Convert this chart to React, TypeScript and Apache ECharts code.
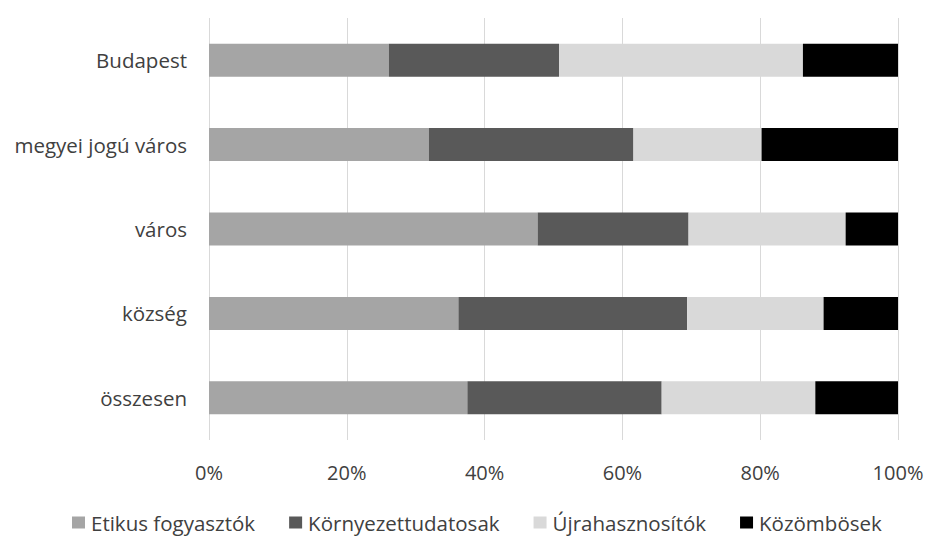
import React, { useEffect, useRef } from "react";
import * as echarts from "echarts";

// Categories listed bottom-to-top (ECharts category axis starts at the bottom)
const categories = ["összesen", "község", "város", "megyei jogú város", "Budapest"];

const seriesNames = ["Etikus fogyasztók", "Környezettudatosak", "Újrahasznosítók", "Közömbösek"];
const etikus = [37.5, 36.2, 47.7, 31.9, 26.1];
const kornyezet = [28.2, 33.2, 21.9, 29.7, 24.7];
const ujra = [22.3, 19.8, 22.8, 18.6, 35.4];
const kozombos = [12.0, 10.8, 7.6, 19.8, 13.8];
const seriesColors = ["#a5a5a5", "#595959", "#d9d9d9", "#000000"];

const xTicks = [0, 20, 40, 60, 80, 100];

const FONT = "'Open Sans', sans-serif";
const TEXT_COLOR = "#404040";

export default function App() {
  const ref = useRef<HTMLDivElement>(null);

  useEffect(() => {
    if (!ref.current) return;
    const chart = echarts.init(ref.current, undefined, { renderer: "svg" });
    const values = [etikus, kornyezet, ujra, kozombos];
    chart.setOption({
      animation: false,
      backgroundColor: "#ffffff",
      grid: { left: 209, right: 30, top: 18, bottom: 97, containLabel: false },
      legend: {
        top: 512,
        left: 72,
        padding: 0,
        itemWidth: 13,
        itemHeight: 12,
        itemGap: 34,
        icon: "rect",
        textStyle: {
          fontFamily: FONT,
          fontSize: 20.5,
          lineHeight: 20,
          color: TEXT_COLOR,
          padding: [0, 0, 0, 1],
        },
        data: seriesNames,
      },
      xAxis: {
        type: "value",
        min: xTicks[0],
        max: xTicks[xTicks.length - 1],
        interval: 20,
        axisLine: { show: false },
        axisTick: { show: false },
        axisLabel: {
          formatter: (v: number) => `${v}%`,
          fontFamily: FONT,
          fontSize: 20,
          color: TEXT_COLOR,
          margin: 22,
        },
        splitLine: { show: true, lineStyle: { color: "#d9d9d9", width: 1 } },
      },
      yAxis: {
        type: "category",
        data: categories,
        axisLine: { show: false },
        axisTick: { show: false },
        axisLabel: { fontFamily: FONT, fontSize: 20.5, color: TEXT_COLOR, margin: 22 },
      },
      series: seriesNames.map((name, i) => ({
        name,
        type: "bar",
        stack: "total",
        barWidth: 33,
        data: values[i],
        itemStyle: { color: seriesColors[i] },
      })),
    });
    return () => chart.dispose();
  }, []);

  return (
    <div
      ref={ref}
      style={{ position: "fixed", left: 0, top: 0, width: 928, height: 537 }}
    />
  );
}
